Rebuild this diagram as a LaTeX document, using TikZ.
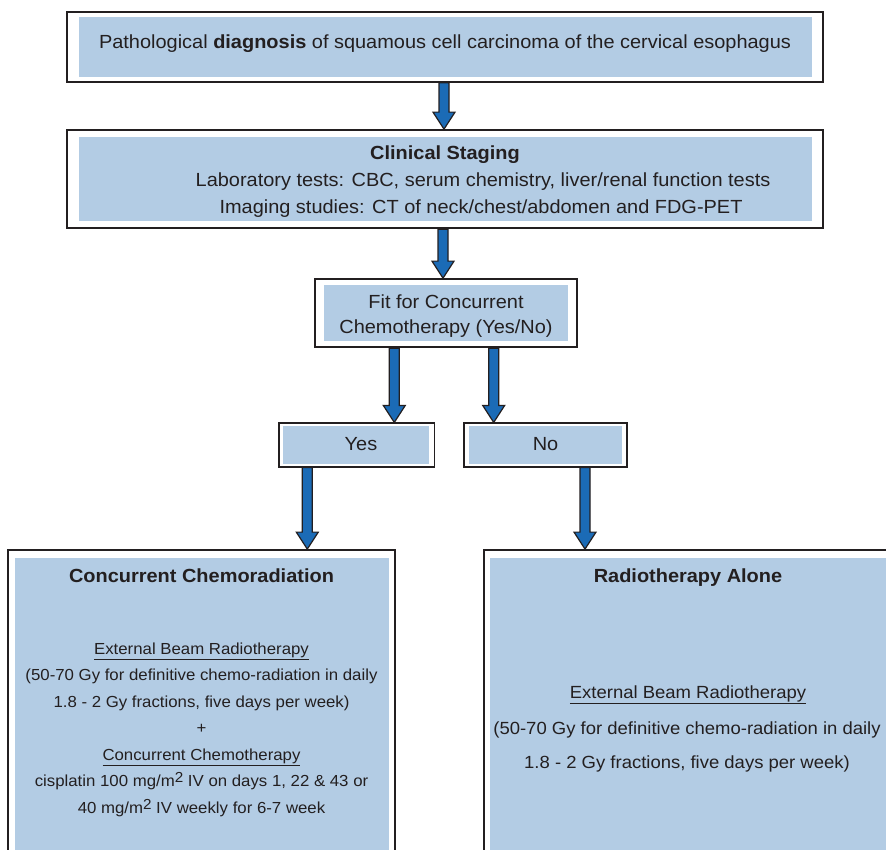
\documentclass[tikz,border=0pt]{standalone}
\usepackage{fontspec}
\setmainfont[FakeStretch=1.05]{Liberation Sans}
\usetikzlibrary{calc}
\definecolor{panelblue}{RGB}{179,204,228}
\definecolor{arrowblue}{RGB}{27,107,182}
\definecolor{ink}{RGB}{35,31,32}

\tikzset{
  frame/.style={draw=ink, line width=1.8pt, fill=white, rectangle, inner sep=0pt},
  panel/.style={fill=panelblue, rectangle, inner sep=0pt},
  txt/.style={text=ink, inner sep=0pt, anchor=base, font=\fontsize{19}{23}\selectfont},
  bodysmall/.style={txt, font=\fontsize{16}{19}\selectfont},
  bodylarge/.style={txt, font=\fontsize{17.6}{21}\selectfont},
  flow/.style={draw=ink, line width=1.2pt, fill=arrowblue, line join=miter,
    to path={let \p1=(\tikztostart), \p2=(\tikztotarget) in
      (\x1-5pt,\y1) -- (\x1-5pt,\y2+17pt) -- (\x1-11pt,\y2+17pt) -- (\x1,\y2)
      -- (\x1+11pt,\y2+17pt) -- (\x1+5pt,\y2+17pt) -- (\x1+5pt,\y1) -- cycle}}
}
\newcommand{\sqm}{m\raisebox{0.45ex}{\fontsize{14.5}{15}\selectfont 2}}

\begin{document}
\begin{tikzpicture}[x=1pt,y=-1pt]
\useasboundingbox (0,0) rectangle (886,850);
\clip (0,0) rectangle (886,850);

% diagnosis
\node[frame, minimum width=756pt, minimum height=70.3pt] (b1) at (445,46.8) {};
\node[panel, minimum width=733pt, minimum height=60pt] (b1in) at (b1.center) {};
\node[txt] (t1) at (445,49) {Pathological \textbf{diagnosis} of squamous cell carcinoma of the cervical esophagus};

% staging
\node[frame, minimum width=756pt, minimum height=98.3pt] (b2) at (445,179.2) {};
\node[panel, minimum width=733pt, minimum height=84.3pt] (b2in) at (b2.center) {};
\node[txt] (t2a) at (445,159.5) {\textbf{Clinical Staging}};
\node[txt] (t2b) at (483,186.5) {Laboratory tests: CBC, serum chemistry, liver/renal function tests};
\node[txt] (t2c) at (481,213.5) {Imaging studies: CT of neck/chest/abdomen and FDG-PET};

% fitness decision
\node[frame, minimum width=262pt, minimum height=68.3pt] (b3) at (446,313.2) {};
\node[panel, minimum width=244pt, minimum height=56.3pt] (b3in) at (b3.center) {};
\node[txt] (t3a) at (446,308.5) {Fit for Concurrent};
\node[txt] (t3b) at (446,333.5) {Chemotherapy (Yes/No)};

% yes / no
\node[frame, minimum width=155.2pt, minimum height=43.4pt] (yes) at (356.9,445) {};
\node[panel, minimum width=146pt, minimum height=38pt] (yesin) at ([xshift=-0.5pt]yes.center) {};
\node[txt] (tyes) at (361,450.5) {Yes};
\node[frame, minimum width=163pt, minimum height=43.4pt] (no) at (545.5,445) {};
\node[panel, minimum width=153pt, minimum height=38pt] (noin) at (no.center) {};
\node[txt] (tno) at (545.5,450.5) {No};

% treatment boxes
\node[frame, minimum width=387pt, minimum height=330pt] (crt) at (201.5,715) {};
\node[panel, minimum width=374pt, minimum height=314pt] (crtin) at (crt.center) {};
\node[frame, minimum width=436pt, minimum height=330pt] (rt) at (702,715) {};
\node[panel, minimum width=425pt, minimum height=314pt] (rtin) at (rt.center) {};

\node[txt] (crtt) at (201.5,582.5) {\textbf{Concurrent Chemoradiation}};
\node[bodysmall] (c1) at (201.5,654) {\underline{External Beam Radiotherapy}};
\node[bodysmall] (c2) at (201.5,680.5) {(50-70 Gy for definitive chemo-radiation in daily};
\node[bodysmall] (c3) at (201.5,707) {1.8 - 2 Gy fractions, five days per week)};
\node[bodysmall] (c4) at (201.5,733.5) {+};
\node[bodysmall] (c5) at (201.5,760) {\underline{Concurrent Chemotherapy}};
\node[bodysmall] (c6) at (201.5,786.5) {cisplatin 100 mg/\sqm{} IV on days 1, 22 \& 43 or};
\node[bodysmall] (c7) at (201.5,813) {40 mg/\sqm{} IV weekly for 6-7 week};

\node[txt] (rtt) at (688,582.5) {\textbf{Radiotherapy Alone}};
\node[bodylarge] (r1) at (688,698.5) {\underline{External Beam Radiotherapy}};
\node[bodylarge] (r2) at (687,734.5) {(50-70 Gy for definitive chemo-radiation in daily};
\node[bodylarge] (r3) at (687,768.5) {1.8 - 2 Gy fractions, five days per week)};

% arrows
\coordinate (sy) at ([xshift=-51.7pt]b3.south);
\coordinate (sn) at ([xshift=47.7pt]b3.south);
\coordinate (sc) at ([xshift=-49.6pt]yes.south);
\coordinate (sr) at ([xshift=39.5pt]no.south);
\draw[flow] ([xshift=-1pt]b1.south) to ([xshift=-1pt]b2.north);
\draw[flow] ([xshift=-2pt]b2.south) to ([xshift=-2pt]b3.north);
\draw[flow] (sy) to (sy |- yes.north);
\draw[flow] (sn) to (sn |- no.north);
\draw[flow] (sc) to (sc |- crt.north);
\draw[flow] (sr) to (sr |- rt.north);
\end{tikzpicture}
\end{document}
